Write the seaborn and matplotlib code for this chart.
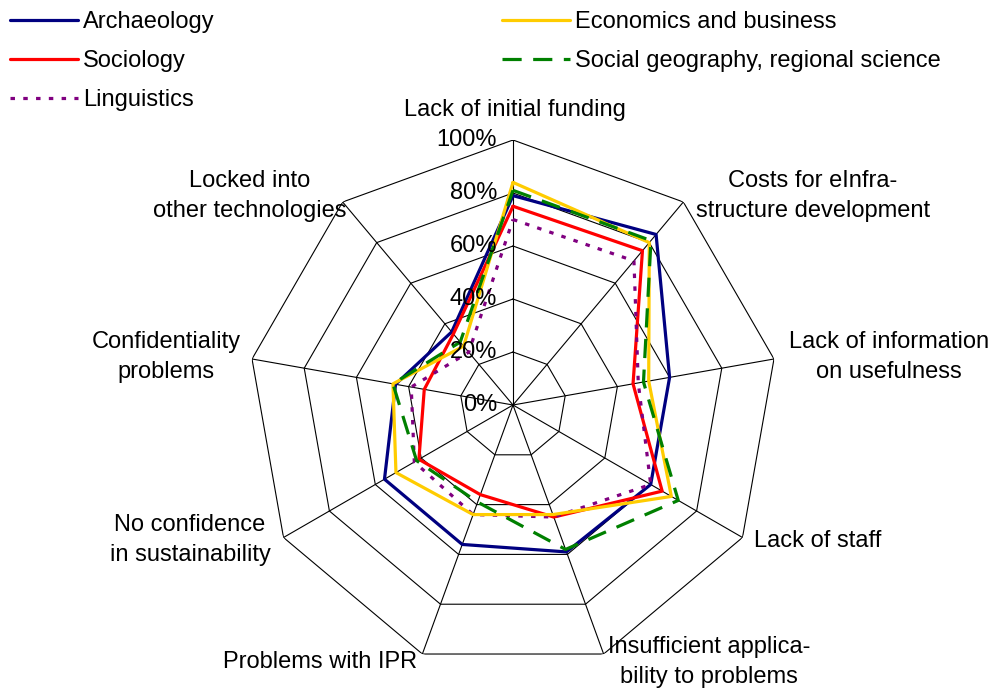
import numpy as np
import pandas as pd
import matplotlib
matplotlib.use("Agg")
import matplotlib.pyplot as plt
import matplotlib.transforms as mtransforms
from matplotlib.lines import Line2D
import seaborn as sns

# ---------------- data ----------------
categories = [
    "Lack of initial funding",
    "Costs for eInfra-\nstructure development",
    "Lack of information\non usefulness",
    "Lack of staff",
    "Insufficient applica-\nbility to problems",
    "Problems with IPR",
    "No confidence\nin sustainability",
    "Confidentiality\nproblems",
    "Locked into\nother technologies",
]
archaeology = [79, 84, 60, 60, 59, 56, 56, 45, 36]
sociology = [75, 76, 46, 65, 45, 36, 41, 34, 35]
linguistics = [70, 71, 48, 60, 45, 44, 43, 39, 26]
economics = [84, 80, 52, 69, 44, 44, 51, 46, 29]
social_geo = [81, 81, 50, 72, 58, 39, 42, 46, 31]

series_names = ["Archaeology", "Sociology", "Linguistics",
                "Economics and business", "Social geography, regional science"]
series_values = [archaeology, sociology, linguistics, economics, social_geo]
tick_values = [0, 20, 40, 60, 80, 100]
tick_labels = ["0%", "20%", "40%", "60%", "80%", "100%"]

colors = {"Archaeology": "#000080", "Sociology": "#FF0000", "Linguistics": "#800080",
          "Economics and business": "#FFCC00",
          "Social geography, regional science": "#008000"}
dashes = {"Archaeology": "", "Sociology": "", "Linguistics": (1.4, 2.6),
          "Economics and business": "",
          "Social geography, regional science": (6.0, 3.6)}

n = len(categories)
rows = []
for name, vals in zip(series_names, series_values):
    for i in range(n + 1):
        rows.append({"series": name, "theta": 2 * np.pi * i / n, "value": vals[i % n] / 100.0})
df = pd.DataFrame(rows)

# ---------------- figure ----------------
sns.set_style("white")
plt.rcParams["font.family"] = ["Liberation Sans", "DejaVu Sans"]
plt.rcParams["text.color"] = "black"
FS = 17

W, H = 998, 693
fig = plt.figure(figsize=(W / 100, H / 100), dpi=100)
cx, cy, R = 513, 405, 265
ax = fig.add_axes([(cx - R) / W, (H - cy - R) / H, 2 * R / W, 2 * R / H], projection="polar")
ax.set_theta_offset(np.pi / 2)
ax.set_theta_direction(-1)
ax.set_ylim(0, 1)
ax.grid(False)
ax.spines["polar"].set_visible(False)
ax.set_xticks([])
ax.set_yticks([])
ax.patch.set_alpha(0)

theta_closed = np.linspace(0, 2 * np.pi, n + 1)
for tv in tick_values[1:]:
    ax.plot(theta_closed, [tv / 100.0] * (n + 1), color="black", lw=0.8, zorder=1)
for th in theta_closed[:-1]:
    ax.plot([th, th], [0, 1], color="black", lw=0.8, zorder=1)

sns.lineplot(data=df, x="theta", y="value", hue="series", style="series",
             hue_order=series_names, style_order=series_names,
             palette=colors, dashes=dashes, sort=False, estimator=None,
             lw=2.3, ax=ax, legend=False, zorder=3)
ax.set_xlabel("")
ax.set_ylabel("")
ax.set_xticks([])
ax.set_yticks([])
ax.set_ylim(0, 1)

# radial tick labels
off = mtransforms.offset_copy(ax.transData, fig=fig, x=-11.5, y=0, units="points")
for tv, tl in zip(tick_values, tick_labels):
    ax.text(0, tv / 100.0, tl, transform=off, ha="right", va="center", fontsize=FS,
            color="black", zorder=5)

# category labels (pixel positions of text centres)
label_pos = [
    (515, 110),
    (813, 196),
    (889, 357),
    (818, 541),
    (709, 662),
    (320, 662),
    (190, 540),
    (166, 357),
    (250, 196),
]
for lab, (px, py) in zip(categories, label_pos):
    fig.text(px / W, 1 - py / H, lab, ha="center", va="center", fontsize=FS,
             multialignment="center", linespacing=1.48, color="black")

# legend
def handle(name):
    return Line2D([], [], color=colors[name], lw=2.3,
                  dashes=dashes[name] if dashes[name] else (None, None),
                  linestyle="-" if not dashes[name] else "--")

common = dict(frameon=False, fontsize=FS, handlelength=2.88, handletextpad=0.22,
              labelspacing=0.73, borderpad=0, borderaxespad=0, loc="upper left",
              labelcolor="black")
leg1 = fig.legend([handle(s) for s in series_names[:3]], series_names[:3],
                  bbox_to_anchor=(10 / W, 1 - 11 / H), **common)
leg2 = fig.legend([handle(s) for s in series_names[3:]], series_names[3:],
                  bbox_to_anchor=(502 / W, 1 - 11 / H), **common)

fig.savefig("out.png", dpi=100)
